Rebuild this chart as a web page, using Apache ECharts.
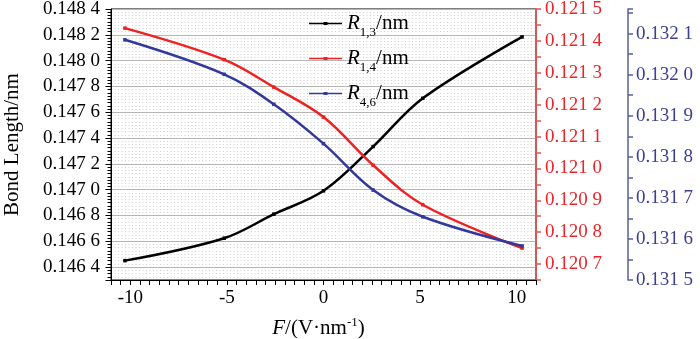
<!DOCTYPE html>
<html><head><meta charset="utf-8">
<script src="https://cdn.jsdelivr.net/npm/echarts@6/dist/echarts.min.js"></script>
<style>html,body{margin:0;padding:0;background:#fff}#c{width:700px;height:339px}</style>
</head><body><div id="c"></div>
<script>
// ---- data ----
const fieldValues = [-10.28, -5.14, -2.57, 0, 2.57, 5.14, 10.28];
const r13 = [0.14645, 0.146624, 0.14681, 0.146991, 0.147334, 0.147708, 0.148184];
const r14 = [0.12144, 0.121341, 0.121255, 0.121161, 0.12101, 0.120886, 0.12075];
const r46 = [0.132085, 0.132001, 0.131928, 0.131832, 0.131719, 0.131654, 0.131583];
const seriesNames = ['R_{1,3}/nm', 'R_{1,4}/nm', 'R_{4,6}/nm'];
const xTickLabels = [-10, -5, 0, 5, 10];
const leftTickLabels = [0.1464, 0.1466, 0.1468, 0.147, 0.1472, 0.1474, 0.1476, 0.1478, 0.148, 0.1482, 0.1484];
const redTickLabels = [0.1207, 0.1208, 0.1209, 0.121, 0.1211, 0.1212, 0.1213, 0.1214, 0.1215];
const blueTickLabels = [0.1315, 0.1316, 0.1317, 0.1318, 0.1319, 0.132, 0.1321];

const FONT = 'Liberation Serif';
const RED = '#e8262c';
const BLUE = '#3a3f92';
const LEGEND_ICON = 'path://M0,4.3H14.5V3.4H18.5V4.3H33V5.7H18.5V6.6H14.5V5.7H0Z';

function inList(list, v, tol) { return list.some(t => Math.abs(t - v) < tol); }
function fmt4(v) { const s = v.toFixed(4); return s.slice(0, 5) + ' ' + s.slice(5); }

const chart = echarts.init(document.getElementById('c'), null, {renderer: 'canvas'});
const labelBase = {fontFamily: FONT, fontSize: 19, color: '#000'};

function mkSeries(name, vals, color, yi) {
  return {
    name: name, type: 'line', yAxisIndex: yi, smooth: 0.35,
    symbol: 'rect', symbolSize: 3.5, showSymbol: true,
    lineStyle: {width: 2.5, color: color}, itemStyle: {color: color},
    data: fieldValues.map((x, i) => [x, vals[i]]), z: 5
  };
}

chart.setOption({
  animation: false,
  backgroundColor: '#fff',
  grid: {left: 111, right: 164, top: 9, bottom: 59, show: true, borderColor: '#000', borderWidth: 1,
         backgroundColor: 'transparent', containLabel: false, outerBoundsMode: 'none'},
  legend: {
    orient: 'vertical', left: 304, top: 8, itemWidth: 33, itemHeight: 10, itemGap: 9,
    icon: LEGEND_ICON,
    data: seriesNames,
    formatter: function (name) {
      const m = name.match(/^R_\{(.+)\}(.*)$/);
      return '{i|R}{s|' + m[1] + '}{n|' + m[2] + '}';
    },
    textStyle: {
      fontFamily: FONT, color: '#000',
      rich: {
        i: {fontFamily: FONT, fontStyle: 'italic', fontSize: 21, color: '#000'},
        s: {fontFamily: FONT, fontSize: 13, color: '#000', padding: [18, 0, 0, 0]},
        n: {fontFamily: FONT, fontSize: 21, color: '#000'}
      }
    }
  },
  xAxis: {
    type: 'value', min: -11, max: 11, interval: 0.5,
    name: '{i|F}{n|/(V·nm}{p|-1}{n|)}', nameLocation: 'middle', nameGap: 36,
    nameTextStyle: {
      padding: [0, 10, 0, 0],
      rich: {
        i: {fontFamily: FONT, fontStyle: 'italic', fontSize: 21, color: '#000'},
        n: {fontFamily: FONT, fontSize: 21, color: '#000'},
        p: {fontFamily: FONT, fontSize: 13, color: '#000', padding: [0, 0, 12, 0]}
      }
    },
    axisLine: {show: true, onZero: false, lineStyle: {color: '#000', width: 1}},
    axisTick: {show: true, length: 5, lineStyle: {color: '#000'}},
    axisLabel: Object.assign({}, labelBase, {margin: 9,
      formatter: v => inList(xTickLabels, v, 1e-6) ? (v < 0 ? '-' + Math.abs(v) : String(v)) : ''}),
    splitLine: {show: false}
  },
  yAxis: [
    {
      type: 'value', position: 'left', min: 0.1463, max: 0.1484, interval: 0.0001,
      name: 'Bond Length/nm', nameLocation: 'middle', nameGap: 88,
      nameTextStyle: {fontFamily: FONT, fontSize: 21, color: '#000'},
      axisLine: {show: true, onZero: false, lineStyle: {color: '#000', width: 1}},
      axisTick: {show: false},
      axisLabel: Object.assign({}, labelBase, {margin: 11,
        formatter: v => inList(leftTickLabels, v, 1e-8) ? fmt4(v) : ''}),
      splitLine: {show: false}
    },
    {
      type: 'value', position: 'right', min: 0.12065, max: 0.1215, interval: 0.00005,
      axisLine: {show: true, onZero: false, lineStyle: {color: '#ee4b4b', width: 1.5}},
      axisTick: {show: true, length: 5, lineStyle: {color: '#ee4b4b', width: 1.5}},
      axisLabel: Object.assign({}, labelBase, {color: RED, margin: 9,
        formatter: v => inList(redTickLabels, v, 1e-8) ? fmt4(v) : ''}),
      splitLine: {show: false}
    },
    {
      type: 'value', position: 'right', offset: 92, min: 0.1315, max: 0.13216, interval: 0.00005,
      axisLine: {show: true, onZero: false, lineStyle: {color: '#5a5f9e', width: 1.5}},
      axisTick: {show: true, length: 5, lineStyle: {color: '#5a5f9e', width: 1.5}},
      axisLabel: Object.assign({}, labelBase, {color: BLUE, margin: 8,
        formatter: v => inList(blueTickLabels, v, 1e-8) ? fmt4(v) : ''}),
      splitLine: {show: false}
    },
    {
      // gridline / tick helper aligned with left axis majors
      type: 'value', position: 'left', inverse: true, min: 0, max: 0.0021, interval: 0.0002,
      axisLine: {show: false, onZero: false},
      axisTick: {show: true, length: 5.5, lineStyle: {color: '#000'}},
      minorTick: {show: true, splitNumber: 8, length: 3.5, lineStyle: {color: '#000'}},
      axisLabel: {show: false},
      splitLine: {show: true, lineStyle: {color: '#b5b5b5', width: 1.2}},
      minorSplitLine: {show: true, lineStyle: {color: '#cfcfcf', width: 1, type: [1, 2.5]}}
    }
  ],
  series: [
    mkSeries(seriesNames[0], r13, '#000000', 0),
    mkSeries(seriesNames[1], r14, '#ee2222', 1),
    mkSeries(seriesNames[2], r46, '#33399a', 2)
  ]
});
</script></body></html>
